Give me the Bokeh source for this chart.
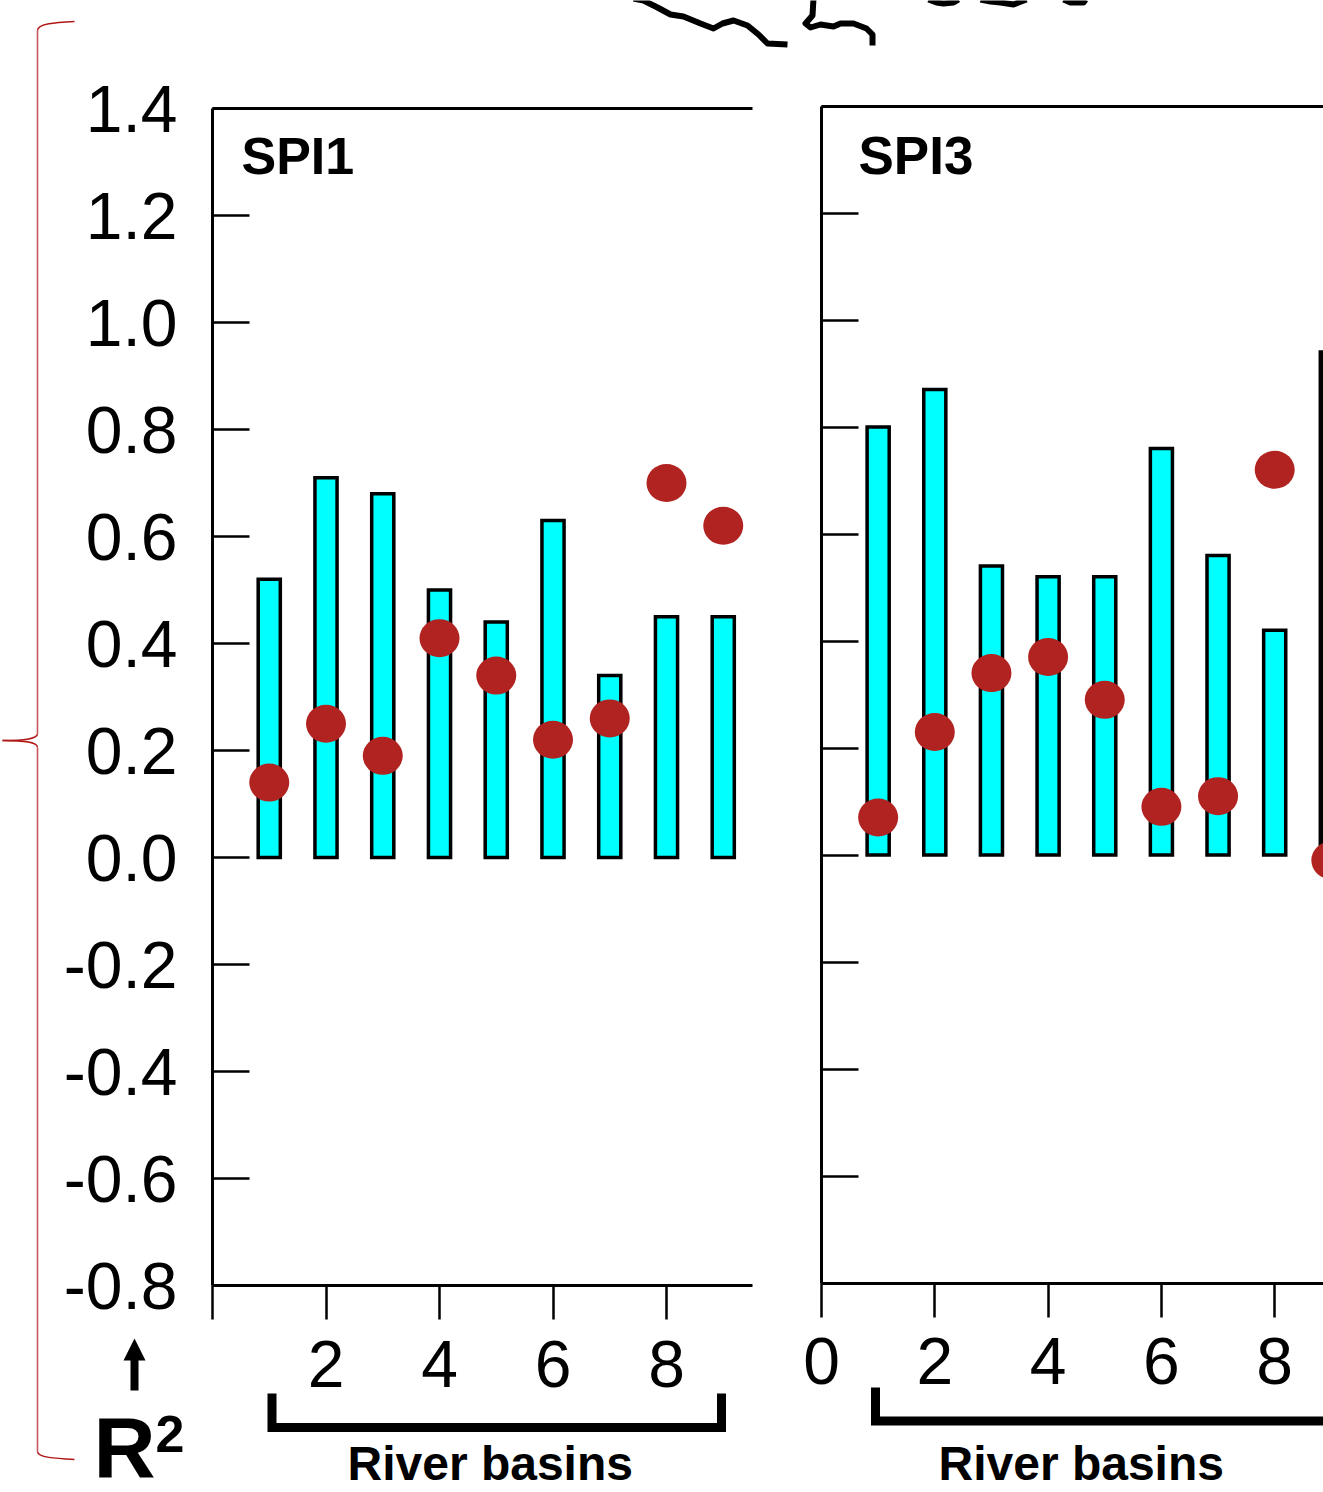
from bokeh.plotting import figure
from bokeh.models import Range1d, LinearAxis, FixedTicker, NumeralTickFormatter
from bokeh.core.properties import value
from bokeh.embed import file_html
from bokeh.resources import INLINE

basins = [1, 2, 3, 4, 5, 6, 7, 8, 9]
spi1_bars = [0.52, 0.71, 0.68, 0.50, 0.44, 0.63, 0.34, 0.45, 0.45]
spi1_dots = [0.14, 0.25, 0.19, 0.41, 0.34, 0.22, 0.26, 0.70, 0.62]
spi3_bars = [0.80, 0.87, 0.54, 0.52, 0.52, 0.76, 0.56, 0.42, 0.94]
spi3_dots = [0.07, 0.23, 0.34, 0.37, 0.29, 0.09, 0.11, 0.72, -0.01]
y_ticks = [-0.8, -0.6, -0.4, -0.2, 0.0, 0.2, 0.4, 0.6, 0.8, 1.0, 1.2, 1.4]
x_ticks_1 = [0, 2, 4, 6, 8]
x_end = 9.515

FONT = value("Liberation Sans")
W, H = 1323, 1492
# scales: panel 1 x=0 at 212px, 56.75 px/unit; y=0 at 857px, 535 px/unit
# panel 2 x=0 at 821px, 56.65 px/unit; y=0 at 854.5px
p = figure(width=W, height=H, output_backend="svg", toolbar_location=None,
           x_axis_location=None, y_axis_location=None, min_border=0,
           x_range=Range1d(-212 / 56.75, (W - 212) / 56.75),
           y_range=Range1d((857 - H) / 535, 857 / 535))
p.outline_line_color = None
p.grid.visible = False
p.extra_x_ranges = {"p2x": Range1d(-821 / 56.65, (W - 821) / 56.65), "px": Range1d(0, W)}
p.extra_y_ranges = {"p2y": Range1d((854.5 - H) / 535, 854.5 / 535), "py": Range1d(H, 0)}


def panel(xr, yr, bars, dots, labels_y, label_x0):
    kw = {}
    if xr:
        kw = dict(x_range_name=xr, y_range_name=yr)
    p.vbar(x=basins, top=bars, bottom=0, width=0.39, fill_color="#00ffff",
           line_color="black", line_width=3.5, line_join="miter", **kw)
    p.ellipse(x=basins, y=dots, width=40, height=38, width_units="screen",
              height_units="screen", fill_color="#b02320", line_color=None, **kw)
    ya = LinearAxis(ticker=FixedTicker(ticks=y_ticks), fixed_location=0, bounds=(-0.8, 1.4),
                    formatter=NumeralTickFormatter(format="0.0"),
                    major_tick_in=37, major_tick_out=0, minor_tick_line_color=None,
                    axis_line_width=3, major_tick_line_width=2.5,
                    major_label_text_font="Liberation Sans", major_label_text_font_size="66px",
                    major_label_text_color="black", major_label_standoff=35, **kw)
    if not labels_y:
        ya.major_label_text_color = None
    p.add_layout(ya, "left")
    xa = LinearAxis(ticker=FixedTicker(ticks=x_ticks_1), fixed_location=-0.8, bounds=(0, x_end),
                    major_tick_in=0, major_tick_out=34, minor_tick_line_color=None,
                    axis_line_width=3, major_tick_line_width=2.5,
                    major_label_text_font="Liberation Sans", major_label_text_font_size="66px",
                    major_label_text_color="black", major_label_standoff=21,
                    major_label_overrides=({} if label_x0 else {0: ""}), **kw)
    p.add_layout(xa, "below")
    ta = LinearAxis(ticker=FixedTicker(ticks=[]), fixed_location=1.4, bounds=(0, x_end),
                    major_tick_line_color=None, minor_tick_line_color=None,
                    major_label_text_color=None, axis_line_width=3, **kw)
    p.add_layout(ta, "above")


panel(None, None, spi1_bars, spi1_dots, True, False)
panel("p2x", "p2y", spi3_bars, spi3_dots, False, True)

PX = dict(x_range_name="px", y_range_name="py")


def txt(x, y, s, size, bold=True):
    p.text(x=[x], y=[y], text=[s], text_font=FONT, text_font_size=value(size),
           text_font_style="bold" if bold else "normal", text_color="black",
           text_align="left", text_baseline="middle", **PX)


txt(241, 155, "SPI1", "52px")
txt(858, 155, "SPI3", "53px")
txt(347, 1463, "River basins", "48px")
txt(938, 1463, "River basins", "48px")
txt(93, 1446, "R", "86px")
txt(155, 1433, "2", "52px")

# brackets under the x axes
p.line([271.5, 271.5, 721, 721], [1393, 1427, 1427, 1393], line_color="black", line_width=9,
       line_join="miter", line_cap="butt", **PX)
p.line([875, 875, 1335, 1335], [1387, 1420.5, 1420.5, 1387], line_color="black", line_width=9,
       line_join="miter", line_cap="butt", **PX)

# arrow
p.line([134, 134], [1390, 1355], line_color="black", line_width=8, **PX)
p.patch([134, 123, 145], [1338, 1360, 1360], color="black", line_width=0, **PX)

# brace
BR = dict(line_color="#b01818", line_width=1.4)
p.line([37, 37], [30, 733], line_color="#c8585c", line_width=1.6, **PX)
p.line([37, 37], [747, 1451], line_color="#c8585c", line_width=1.6, **PX)
p.bezier(x0=[37], y0=[30], x1=[74], y1=[21], cx0=[37], cy0=[23], cx1=[55], cy1=[22], **BR, **PX)
p.bezier(x0=[37], y0=[1451], x1=[74], y1=[1459], cx0=[37], cy0=[1457], cx1=[55], cy1=[1458], **BR, **PX)
p.bezier(x0=[37], y0=[733], x1=[2], y1=[740], cx0=[37], cy0=[739], cx1=[22], cy1=[740], **BR, **PX)
p.bezier(x0=[37], y0=[747], x1=[2], y1=[740], cx0=[37], cy0=[741], cx1=[22], cy1=[740], **BR, **PX)

# map fragments above the panels
ML = dict(line_color="black", line_width=6, line_join="round", line_cap="butt")
p.line([633, 643, 657, 670, 683, 700, 713, 722, 733, 747, 758, 767, 787],
       [-2, 0, 7, 14, 16, 23, 28, 23, 20, 25, 34, 43, 44], **ML, **PX)
p.line([813, 812, 805, 810, 820, 833, 840, 853, 866, 872, 872],
       [-2, 15, 23, 27, 24, 26, 23, 23, 28, 34, 45], **ML, **PX)
p.line([928, 936, 943, 953, 958], [-1, 2, 3, 2, -1], **ML, **PX)
p.line([980, 990, 1000, 1013, 1018, 1026], [-1, 1, 2, 4, 2, -1], **ML, **PX)
p.line([1063, 1070, 1083, 1085], [-1, 2, 2, -1], **ML, **PX)

open("out.html", "w").write(file_html(p, INLINE))
